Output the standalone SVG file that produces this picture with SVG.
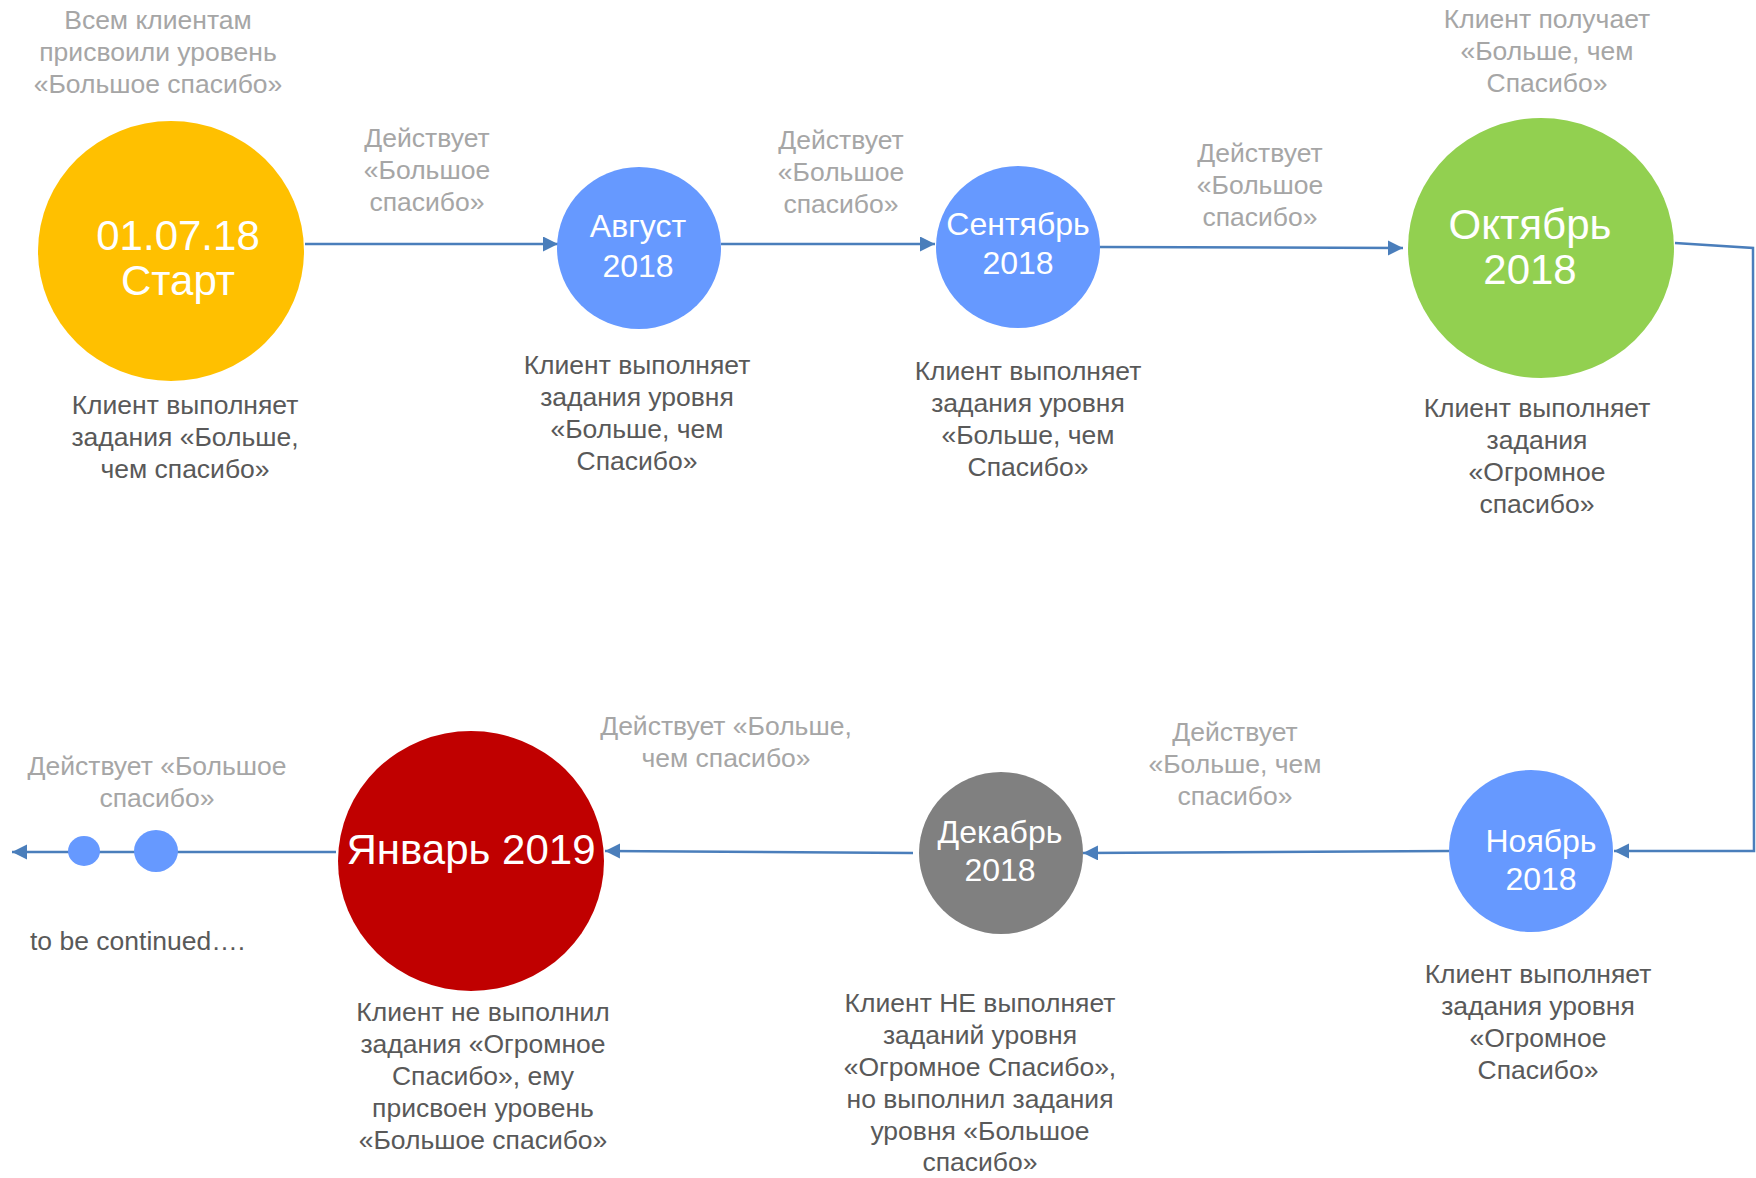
<svg xmlns="http://www.w3.org/2000/svg" width="1756" height="1178" viewBox="0 0 1756 1178">
<defs>
<marker id="arr" markerUnits="userSpaceOnUse" markerWidth="16" markerHeight="16" refX="15" refY="7.5" orient="auto">
<path d="M0,0 L15,7.5 L0,15 z" fill="#4A7EBB"/>
</marker>
</defs>
<style>
text{font-family:"Liberation Sans",Arial,sans-serif;text-anchor:middle}
.w{fill:#fff;font-size:32px}
.wl{fill:#fff;font-size:42px}
.g{fill:#A6A6A6;font-size:26.5px}
.d{fill:#595959;font-size:26.5px}
.c{fill:none;stroke:#4A7EBB;stroke-width:2.5}
</style>
<rect width="1756" height="1178" fill="#fff"/>
<g id="connectors">
<path class="c" d="M305,244 L558,244" marker-end="url(#arr)"/>
<path class="c" d="M721,244 L935,244" marker-end="url(#arr)"/>
<path class="c" d="M1100,247 L1403,248" marker-end="url(#arr)"/>
<path class="c" d="M1675,243 L1753,248 L1754,851 L1614,851" marker-end="url(#arr)"/>
<path class="c" d="M1449,851 L1083,853" marker-end="url(#arr)"/>
<path class="c" d="M913,853 L605,851" marker-end="url(#arr)"/>
<path class="c" d="M336,852 L12,852" marker-end="url(#arr)"/>
</g>
<g id="node-start">
<ellipse cx="171" cy="251" rx="133" ry="130" fill="#FFC000"/>
<text class="wl" x="178" y="250">01.07.18</text>
<text class="wl" x="178" y="295">Старт</text>
</g>
<g id="node-aug">
<ellipse cx="639" cy="248" rx="82" ry="81" fill="#6699FF"/>
<text class="w" x="638" y="237">Август</text>
<text class="w" x="638" y="277">2018</text>
</g>
<g id="node-sep">
<ellipse cx="1018" cy="247" rx="82" ry="81" fill="#6699FF"/>
<text class="w" x="1018" y="235">Сентябрь</text>
<text class="w" x="1018" y="274">2018</text>
</g>
<g id="node-oct">
<ellipse cx="1541" cy="248" rx="133" ry="130" fill="#92D050"/>
<text class="wl" x="1530" y="239">Октябрь</text>
<text class="wl" x="1530" y="284">2018</text>
</g>
<g id="node-nov">
<ellipse cx="1531" cy="851" rx="82" ry="81" fill="#6699FF"/>
<text class="w" x="1541" y="852">Ноябрь</text>
<text class="w" x="1541" y="890">2018</text>
</g>
<g id="node-dec">
<ellipse cx="1001" cy="853" rx="82" ry="81" fill="#808080"/>
<text class="w" x="1000" y="843">Декабрь</text>
<text class="w" x="1000" y="881">2018</text>
</g>
<g id="node-jan">
<ellipse cx="471" cy="861" rx="133" ry="130" fill="#C00000"/>
<text class="wl" x="471" y="864">Январь 2019</text>
</g>
<g id="dots">
<ellipse cx="84" cy="851" rx="16" ry="15" fill="#6699FF"/>
<ellipse cx="156" cy="851" rx="22" ry="21" fill="#6699FF"/>
</g>
<g id="labels-gray">
<text class="g" x="158" y="29"><tspan x="158">Всем клиентам</tspan><tspan x="158" y="61">присвоили уровень</tspan><tspan x="158" y="93">«Большое спасибо»</tspan></text>
<text class="g" x="427" y="147"><tspan x="427">Действует</tspan><tspan x="427" y="179">«Большое</tspan><tspan x="427" y="211">спасибо»</tspan></text>
<text class="g" x="841" y="149"><tspan x="841">Действует</tspan><tspan x="841" y="181">«Большое</tspan><tspan x="841" y="213">спасибо»</tspan></text>
<text class="g" x="1260" y="162"><tspan x="1260">Действует</tspan><tspan x="1260" y="194">«Большое</tspan><tspan x="1260" y="226">спасибо»</tspan></text>
<text class="g" x="1547" y="28"><tspan x="1547">Клиент получает</tspan><tspan x="1547" y="60">«Больше, чем</tspan><tspan x="1547" y="92">Спасибо»</tspan></text>
<text class="g" x="726" y="735"><tspan x="726">Действует «Больше,</tspan><tspan x="726" y="767">чем спасибо»</tspan></text>
<text class="g" x="1235" y="741"><tspan x="1235">Действует</tspan><tspan x="1235" y="773">«Больше, чем</tspan><tspan x="1235" y="805">спасибо»</tspan></text>
<text class="g" x="157" y="775"><tspan x="157">Действует «Большое</tspan><tspan x="157" y="807">спасибо»</tspan></text>
</g>
<g id="labels-dark">
<text class="d" x="185" y="414"><tspan x="185">Клиент выполняет</tspan><tspan x="185" y="446">задания «Больше,</tspan><tspan x="185" y="478">чем спасибо»</tspan></text>
<text class="d" x="637" y="374"><tspan x="637">Клиент выполняет</tspan><tspan x="637" y="406">задания уровня</tspan><tspan x="637" y="438">«Больше, чем</tspan><tspan x="637" y="470">Спасибо»</tspan></text>
<text class="d" x="1028" y="380"><tspan x="1028">Клиент выполняет</tspan><tspan x="1028" y="412">задания уровня</tspan><tspan x="1028" y="444">«Больше, чем</tspan><tspan x="1028" y="476">Спасибо»</tspan></text>
<text class="d" x="1537" y="417"><tspan x="1537">Клиент выполняет</tspan><tspan x="1537" y="449">задания</tspan><tspan x="1537" y="481">«Огромное</tspan><tspan x="1537" y="513">спасибо»</tspan></text>
<text class="d" x="1538" y="983"><tspan x="1538">Клиент выполняет</tspan><tspan x="1538" y="1015">задания уровня</tspan><tspan x="1538" y="1047">«Огромное</tspan><tspan x="1538" y="1079">Спасибо»</tspan></text>
<text class="d" x="980" y="1012"><tspan x="980">Клиент НЕ выполняет</tspan><tspan x="980" y="1044">заданий уровня</tspan><tspan x="980" y="1076">«Огромное Спасибо»,</tspan><tspan x="980" y="1108">но выполнил задания</tspan><tspan x="980" y="1140">уровня «Большое</tspan><tspan x="980" y="1171">спасибо»</tspan></text>
<text class="d" x="483" y="1021"><tspan x="483">Клиент не выполнил</tspan><tspan x="483" y="1053">задания «Огромное</tspan><tspan x="483" y="1085">Спасибо», ему</tspan><tspan x="483" y="1117">присвоен уровень</tspan><tspan x="483" y="1149">«Большое спасибо»</tspan></text>
<text class="d" x="30" y="950" style="text-anchor:start">to be continued….</text>
</g>
</svg>
